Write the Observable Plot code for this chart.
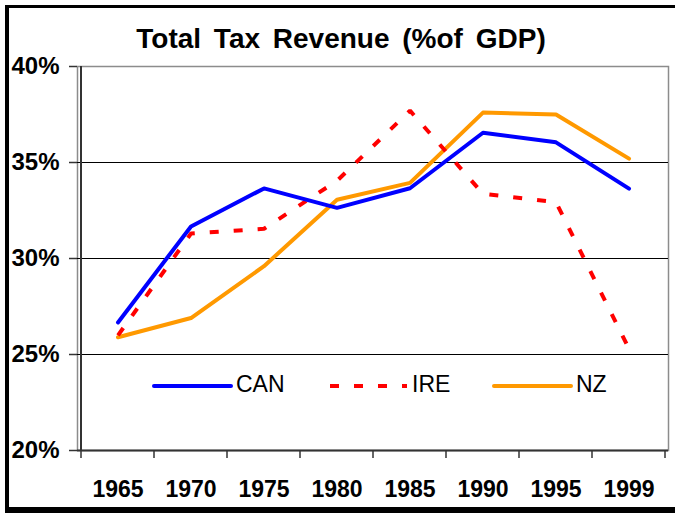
<!DOCTYPE html>
<html>
<head>
<meta charset="utf-8">
<script src="https://cdn.jsdelivr.net/npm/d3@7"></script>
<script src="https://cdn.jsdelivr.net/npm/@observablehq/plot@0.6"></script>
<style>
  html, body { margin: 0; padding: 0; background: #fff; overflow: hidden; }
  #wrap { position: relative; width: 675px; height: 516px; overflow: hidden; background: #fff;
          font-family: "Liberation Sans", Arial, sans-serif; }
  #chart { position: absolute; left: 0; top: 0; }
  #title { position: absolute; left: 0; width: 682px; top: 23px; text-align: center;
           font-size: 28px; font-weight: bold; color: #000; white-space: nowrap; word-spacing: 5px; }
  #border { position: absolute; left: 5px; top: 5px; width: 720px; height: 499px;
            border-left: 4px solid #000; border-top: 3px solid #000; border-bottom: 6px solid #000;
            pointer-events: none; }
  #legend { position: absolute; left: 0; top: 0; pointer-events: none; }
</style>
</head>
<body>
<div id="wrap">
  <div id="chart"></div>
  <div id="title">Total Tax Revenue (%of GDP)</div>
  <svg id="legend" width="675" height="516"></svg>
  <div id="border"></div>
</div>
<script>
// ---- data ----
const years = ["1965", "1970", "1975", "1980", "1985", "1990", "1995", "1999"];
const can = [26.67, 31.67, 33.65, 32.64, 33.66, 36.55, 36.05, 33.64];
const ire = [26.0, 31.3, 31.55, 34.05, 37.7, 33.37, 32.93, 25.3];
const nz  = [25.9, 26.9, 29.6, 33.06, 33.94, 37.6, 37.5, 35.2];
const yTicks = [20, 25, 30, 35, 40];
const gridTicks = [25, 30, 35];
const seriesNames = ["CAN", "IRE", "NZ"];
const seriesColors = ["#0000FF", "#FF0000", "#FF9900"];

const rows = (vals) => years.map((yr, i) => ({year: yr, value: vals[i]}));
const font = "'Liberation Sans', Arial, sans-serif";

const chart = Plot.plot({
  width: 675,
  height: 516,
  marginLeft: 77,
  marginRight: 7,
  marginTop: 66,
  marginBottom: 66,
  style: {fontFamily: font, background: "transparent", color: "#000", overflow: "visible"},
  x: {type: "band", domain: years, padding: 0, align: 0.5, label: null},
  y: {domain: [20, 40], label: null},
  marks: [
    Plot.frame({stroke: "#8c8c8c", strokeWidth: 1.5}),
    Plot.ruleY(gridTicks, {stroke: "#000", strokeWidth: 1.2}),
    Plot.ruleY([20], {stroke: "#333", strokeWidth: 2}),
    Plot.axisY({ticks: yTicks, tickFormat: d => d + "%", tickSize: 8, tickPadding: 10,
                fontSize: 24, fontWeight: "bold", stroke: "#333", strokeWidth: 1.5, label: null}),
    Plot.axisX({tickSize: 0, tickPadding: 30, fontSize: 23, fontWeight: "bold", label: null}),
    Plot.line(rows(nz), {x: "year", y: "value", stroke: seriesColors[2], strokeWidth: 4,
                         strokeLinejoin: "round", strokeLinecap: "round"}),
    Plot.line(rows(ire), {x: "year", y: "value", stroke: seriesColors[1], strokeWidth: 4,
                          strokeDasharray: "9,15", strokeLinecap: "butt", strokeLinejoin: "miter"}),
    Plot.line(rows(can), {x: "year", y: "value", stroke: seriesColors[0], strokeWidth: 4,
                          strokeLinejoin: "round", strokeLinecap: "round"})
  ]
});
document.getElementById("chart").appendChild(chart);

// boundary ticks and left axis line from the library's x scale
const sx = chart.scale("x");
const sy = chart.scale("y");
const svg = d3.select(chart);
const bounds = years.map(y => sx.apply(y)).concat([sx.apply(years[years.length - 1]) + sx.bandwidth]);
const y0 = sy.apply(20), y1 = sy.apply(40);
svg.append("g").selectAll("line").data(bounds).join("line")
  .attr("x1", d => d).attr("x2", d => d)
  .attr("y1", y0).attr("y2", y0 + 8)
  .attr("stroke", "#333").attr("stroke-width", 1.5);
svg.append("line")
  .attr("x1", bounds[0]).attr("x2", bounds[0])
  .attr("y1", y1).attr("y2", y0)
  .attr("stroke", "#333").attr("stroke-width", 2);

// legend
const leg = d3.select("#legend");
const legX = [154, 330, 494];
const legY = 386;
seriesNames.forEach((name, i) => {
  leg.append("line")
    .attr("x1", legX[i]).attr("x2", legX[i] + 77)
    .attr("y1", legY).attr("y2", legY)
    .attr("stroke", seriesColors[i]).attr("stroke-width", 4)
    .attr("stroke-dasharray", i === 1 ? "9,15" : null)
    .attr("stroke-linecap", i === 1 ? "butt" : "round");
  leg.append("text")
    .attr("x", legX[i] + 82).attr("y", legY + 6)
    .attr("font-family", font).attr("font-size", 23)
    .attr("fill", "#000").text(name);
});
</script>
</body>
</html>
